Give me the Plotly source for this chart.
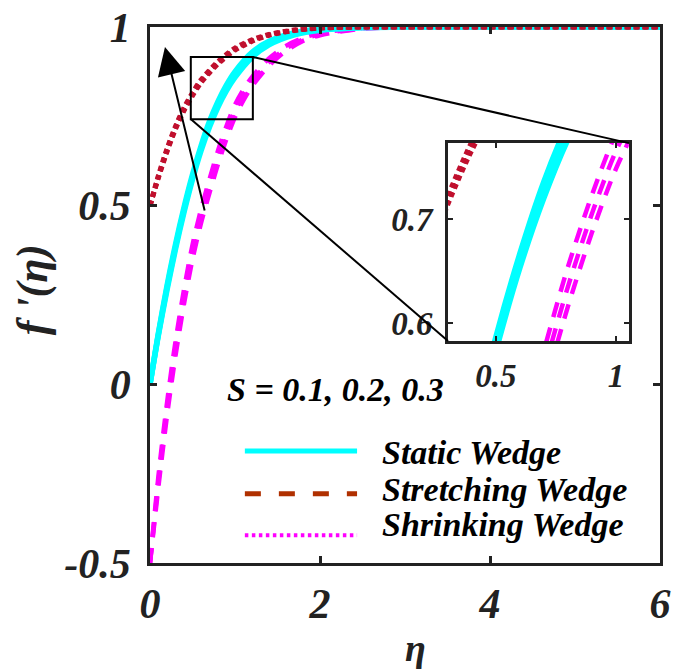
import plotly.graph_objects as go

# ---------------- data ----------------
S_values = ["0.1", "0.2", "0.3"]

eta_static = [0, 0.1, 0.2, 0.3, 0.4, 0.5, 0.6, 0.7, 0.8, 0.9, 1.0, 1.2, 1.4, 1.7, 2.0, 2.5, 3.0, 4.0, 6.0]
static_S1 = [0, 0.139, 0.264, 0.378, 0.481, 0.573, 0.653, 0.720, 0.776, 0.822, 0.859, 0.915, 0.950, 0.978, 0.991, 0.998, 1, 1, 1]
static_S2 = [0, 0.142, 0.270, 0.385, 0.488, 0.580, 0.660, 0.728, 0.784, 0.830, 0.867, 0.922, 0.955, 0.981, 0.993, 0.999, 1, 1, 1]
static_S3 = [0, 0.145, 0.276, 0.392, 0.495, 0.587, 0.667, 0.736, 0.792, 0.838, 0.875, 0.929, 0.960, 0.984, 0.995, 0.999, 1, 1, 1]

eta_shrink = [0, 0.1, 0.2, 0.3, 0.4, 0.5, 0.6, 0.7, 0.8, 0.9, 1.0, 1.1, 1.2, 1.4, 1.6, 1.8, 2.0, 2.5, 3.0, 4.0, 6.0]
shrink_S1 = [-0.5, -0.285, -0.088, 0.080, 0.225, 0.350, 0.451, 0.536, 0.616, 0.687, 0.748, 0.795, 0.834, 0.892, 0.933, 0.961, 0.977, 0.995, 1, 1, 1]
shrink_S2 = [-0.5, -0.270, -0.070, 0.100, 0.245, 0.370, 0.470, 0.555, 0.635, 0.705, 0.765, 0.810, 0.847, 0.902, 0.940, 0.965, 0.980, 0.996, 1, 1, 1]
shrink_S3 = [-0.5, -0.255, -0.052, 0.120, 0.265, 0.390, 0.489, 0.574, 0.654, 0.723, 0.782, 0.825, 0.860, 0.912, 0.947, 0.969, 0.983, 0.997, 1, 1, 1]

eta_stretch = [0, 0.1, 0.2, 0.3, 0.4, 0.5, 0.6, 0.8, 1.0, 1.2, 1.4, 1.7, 2.0, 2.5, 3.0, 4.0, 6.0]
stretch_S1 = [0.5, 0.579, 0.651, 0.714, 0.766, 0.808, 0.844, 0.897, 0.935, 0.960, 0.977, 0.990, 0.997, 1, 1, 1, 1]
stretch_S2 = [0.5, 0.582, 0.655, 0.718, 0.770, 0.812, 0.848, 0.900, 0.938, 0.962, 0.978, 0.991, 0.997, 1, 1, 1, 1]
stretch_S3 = [0.5, 0.585, 0.659, 0.722, 0.774, 0.816, 0.852, 0.903, 0.941, 0.964, 0.979, 0.992, 0.998, 1, 1, 1, 1]

x_ticks = [0, 2, 4, 6]
x_ticktext = ["0", "2", "4", "6"]
y_ticks = [-0.5, 0, 0.5, 1]
y_ticktext = ["-0.5", "0", "0.5", "1"]
inset_x_ticks = [0.5, 1]
inset_x_ticktext = ["0.5", "1"]
inset_y_ticks = [0.6, 0.7]
inset_y_ticktext = ["0.6", "0.7"]

legend_labels = ["Static Wedge", "Stretching Wedge", "Shrinking Wedge"]

# ---------------- styling ----------------
FONT = "Liberation Serif"
INK = "#222222"
CYAN = "#00FFFF"
MAGENTA = "#FF00FF"
CRIMSON = "#C0102E"
BROWN = "#B03000"

fig = go.Figure()

groups = [
    (eta_shrink, [shrink_S1, shrink_S2, shrink_S3], dict(color=MAGENTA, width=4.5, dash="15px,11px")),
    (eta_static, [static_S1, static_S2, static_S3], dict(color=CYAN, width=5.5)),
    (eta_stretch, [stretch_S1, stretch_S2, stretch_S3], dict(color=CRIMSON, width=5, dash="5px,4px")),
]

for axes in [("x", "y"), ("x2", "y2")]:
    for eta, series, style in groups:
        for s, vals in zip(S_values, series):
            fig.add_trace(go.Scatter(
                x=eta, y=vals, mode="lines", xaxis=axes[0], yaxis=axes[1],
                line=dict(shape="spline", smoothing=0.8, **style),
                showlegend=False, hoverinfo="skip", name="S = " + s,
            ))

tickfont = dict(family=FONT, size=42, color=INK, weight="bold", style="italic")
insetfont = dict(family=FONT, size=33, color=INK, weight="bold", style="italic")

common = dict(showgrid=False, zeroline=False, showline=True, linecolor=INK, linewidth=2.5,
              mirror="ticks", ticks="inside", tickcolor=INK, automargin=False)

fig.update_layout(
    width=674, height=670,
    margin=dict(l=150, r=14, t=27, b=107, autoexpand=False),
    paper_bgcolor="white", plot_bgcolor="white",
    showlegend=False,
    xaxis=dict(domain=[0, 1], range=[0, 6], tickvals=x_ticks, ticktext=x_ticktext,
               ticklen=7, tickwidth=2.5, tickfont=tickfont, ticklabelstandoff=2, **common),
    yaxis=dict(domain=[0, 1], range=[-0.5, 1], tickvals=y_ticks, ticktext=y_ticktext,
               ticklen=7, tickwidth=2.5, tickfont=tickfont, ticklabelstandoff=8, **common),
    xaxis2=dict(domain=[0.584, 0.939], range=[0.3, 1.054], anchor="y2",
                tickvals=inset_x_ticks, ticktext=inset_x_ticktext,
                ticklen=5, tickwidth=2, tickfont=insetfont, ticklabelstandoff=4, **common),
    yaxis2=dict(domain=[0.414, 0.784], range=[0.583, 0.773], anchor="x2",
                tickvals=inset_y_ticks, ticktext=inset_y_ticktext,
                ticklen=5, tickwidth=2, tickfont=insetfont, ticklabelstandoff=6, **common),
)

# zoom rectangle and connectors (main data coordinates)
fig.add_shape(type="rect", xref="x", yref="y", x0=0.48, x1=1.21, y0=0.742, y1=0.916,
              line=dict(color="black", width=2))
fig.add_shape(type="line", xref="x", yref="y", x0=1.212, y0=0.916, x1=5.635, y1=0.675,
              line=dict(color="black", width=2))
fig.add_shape(type="line", xref="x", yref="y", x0=0.482, y0=0.742, x1=3.506, y1=0.121,
              line=dict(color="black", width=2))

# arrow indicating increasing S
fig.add_annotation(x=0.176, y=0.944, ax=0.647, ay=0.482, xref="x", yref="y",
                   axref="x", ayref="y", text="", showarrow=True,
                   arrowhead=2, arrowsize=2.8, arrowwidth=2, arrowcolor="black")

# S annotation
fig.add_annotation(x=0.147, y=0.323, xref="paper", yref="paper", xanchor="left", yanchor="middle",
                   text="S = " + ", ".join(S_values), showarrow=False,
                   font=dict(family=FONT, size=34, color="black", weight="bold", style="italic"))

# custom legend
leg_styles = [
    dict(color=CYAN, width=5, dash="solid"),
    dict(color=BROWN, width=5, dash="16px,18px"),
    dict(color=MAGENTA, width=4, dash="3.5px,3.5px"),
]
leg_line_y = [0.209, 0.129, 0.052]
leg_text_y = [0.207, 0.138, 0.071]
for lab, st, ly, ty in zip(legend_labels, leg_styles, leg_line_y, leg_text_y):
    fig.add_shape(type="line", xref="paper", yref="paper", x0=0.186, x1=0.406, y0=ly, y1=ly,
                  line=st)
    fig.add_annotation(x=0.451, y=ty, xref="paper", yref="paper", xanchor="left", yanchor="middle",
                       text=lab, showarrow=False,
                       font=dict(family=FONT, size=34, color="black", weight="bold", style="italic"))

# axis titles
fig.add_annotation(x=-0.23, y=0.51, xref="paper", yref="paper", text="f '(η)", textangle=-90,
                   showarrow=False, xanchor="center", yanchor="middle",
                   font=dict(family=FONT, size=44, color=INK, weight="bold", style="italic"))
fig.add_annotation(x=0.52, y=-0.158, xref="paper", yref="paper", text="η",
                   showarrow=False, xanchor="center", yanchor="middle",
                   font=dict(family=FONT, size=38, color=INK, weight="bold", style="italic"))

fig.write_html("out.html")
